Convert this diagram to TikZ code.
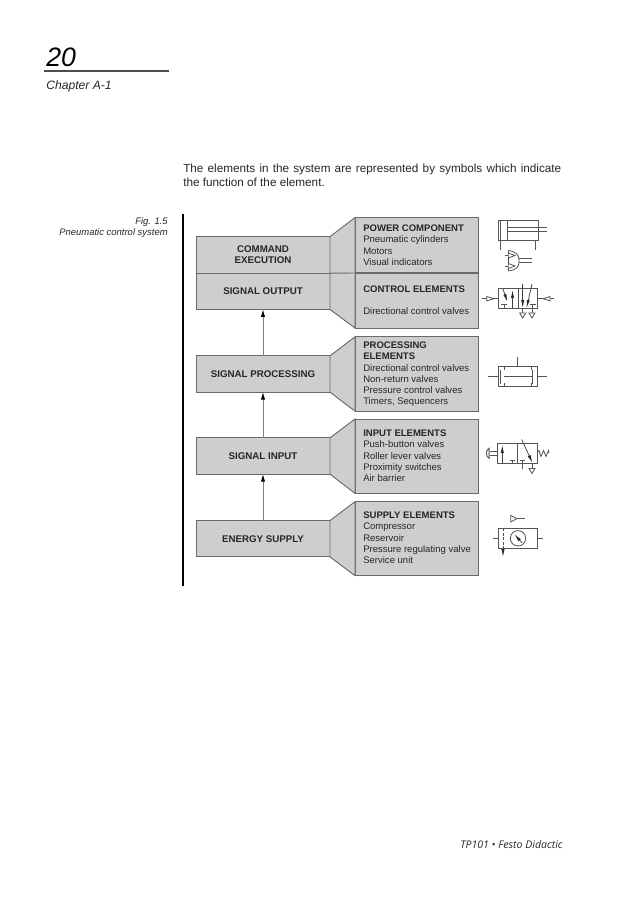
\documentclass[tikz,border=0pt]{standalone}
\usepackage{fontspec}
\setmainfont{Liberation Sans}
\newfontfamily\footfont{Open Sans}
\usetikzlibrary{arrows.meta}
\definecolor{boxfill}{HTML}{CECECE}
\definecolor{boxline}{HTML}{6A6A6A}
\definecolor{symline}{HTML}{555555}
\tikzset{
  flowbox/.style={draw=boxline,line width=.7pt,fill=boxfill,inner sep=0pt,outer sep=0pt,minimum width=100.5pt,align=center,font=\fontsize{7.3}{8.1}\selectfont\bfseries,text=black!85},
  infobox/.style={draw=boxline,line width=.7pt,fill=boxfill,inner sep=0pt,outer sep=0pt,minimum width=92.25pt},
  funnel/.style={draw=boxline,line width=.7pt,fill=boxfill},
  infotext/.style={anchor=north west,inner sep=0pt,align=left,font=\fontsize{7.15}{8.3}\selectfont,text=black!85},
  flowarrow/.style={draw=gray,line width=.65pt,-{Latex[black,length=5.5pt,width=3.2pt]}},
  sym/.style={draw=symline,line width=.6pt},
  symthin/.style={draw=symline,line width=.5pt},
  symarrow/.style={draw=black!75,line width=.55pt,-{Latex[black!85,length=6pt,width=2.4pt]}},
  pagetext/.style={inner sep=0pt,font=\fontsize{7.1}{8.2}\selectfont\itshape,text=black!85}
}
\begin{document}
\begin{tikzpicture}[x=.75pt,y=-.75pt]
\useasboundingbox (0,0) rectangle (638,903);
% page furniture
\node[anchor=base west,inner sep=0pt,font=\fontsize{20}{22}\selectfont\itshape] (pagenum) at (46,66) {20};
\coordinate (ruleA) at (44,71); \coordinate (ruleB) at (168.5,71);
\draw[line width=.8pt,draw=black!70] (ruleA) -- (ruleB);
\node[anchor=base west,inner sep=0pt,font=\fontsize{9.1}{10}\selectfont\itshape,text=black!85] (chapter) at (46,89) {Chapter A-1};
\node[anchor=base west,inner sep=0pt,font=\fontsize{8.8}{10.5}\selectfont,text=black!85] (introA) at (183,172) {\makebox[283.5pt][s]{The elements in the system are represented by symbols which indicate}};
\node[anchor=base west,inner sep=0pt,font=\fontsize{8.8}{10.5}\selectfont,text=black!85] (introB) at (183,186) {the function of the element.};
\node[pagetext,anchor=base east] (figno) at (168,224) {Fig. 1.5};
\node[pagetext,anchor=base east] (figname) at (168,235) {Pneumatic control system};
\coordinate (barA) at (182.5,214); \coordinate (barB) at (182.5,585.5);
\draw[line width=1.5pt,draw=black] (barA) -- (barB);
\node[anchor=base east,inner sep=0pt,font=\footfont\fontsize{7.9}{9}\selectfont\itshape,text=black!85] (footer) at (563,848.5) {TP101 • Festo Didactic};

% info boxes
\node[infobox,minimum height=41.5pt] (power) at (416.5,245.25) {};
\node[infobox,minimum height=41.25pt] (control) at (416.5,300.5) {};
\node[infobox,minimum height=55.75pt] (proc) at (416.5,374) {};
\node[infobox,minimum height=55.75pt] (input) at (416.5,456.2) {};
\node[infobox,minimum height=55.5pt] (supply) at (416.5,538.7) {};
% flow boxes
\node[flowbox,minimum height=27.25pt] (cmd) at (263,254.8) {COMMAND\\EXECUTION};
\node[flowbox,minimum height=27.25pt] (out) at (263,291.3) {SIGNAL OUTPUT};
\node[flowbox,minimum height=27.25pt] (sproc) at (263,374) {SIGNAL PROCESSING};
\node[flowbox,minimum height=27.25pt] (sin) at (263,456) {SIGNAL INPUT};
\node[flowbox,minimum height=27.25pt] (energy) at (263,538.7) {ENERGY SUPPLY};
% funnels
\draw[funnel] (cmd.north east) -- (power.north west) -- (control.south west) -- (out.south east) -- cycle;
\draw[funnel] (sproc.north east) -- (proc.north west) -- (proc.south west) -- (sproc.south east) -- cycle;
\draw[funnel] (sin.north east) -- (input.north west) -- (input.south west) -- (sin.south east) -- cycle;
\draw[funnel] (energy.north east) -- (supply.north west) -- (supply.south west) -- (energy.south east) -- cycle;
\draw[draw=boxline,line width=.7pt] (out.north east) -- (control.north west);
% arrows
\draw[flowarrow] (sproc.north) -- (out.south);
\draw[flowarrow] (sin.north) -- (sproc.south);
\draw[flowarrow] (energy.north) -- (sin.south);
% info texts
\node[infotext] (t1) at (363,225) {\textbf{POWER COMPONENT}\\Pneumatic cylinders\\Motors\\Visual indicators};
\node[infotext] (t2a) at (363,286) {\textbf{CONTROL ELEMENTS}};
\node[infotext] (t2b) at (363,307) {Directional control valves};
\node[infotext] (t3) at (363,342) {\textbf{PROCESSING}\\\textbf{ELEMENTS}\\Directional control valves\\Non-return valves\\Pressure control valves\\Timers, Sequencers};
\node[infotext] (t4) at (363,430) {\textbf{INPUT ELEMENTS}\\Push-button valves\\Roller lever valves\\Proximity switches\\Air barrier};
\node[infotext] (t5) at (363,512) {\textbf{SUPPLY ELEMENTS}\\Compressor\\Reservoir\\Pressure regulating valve\\Service unit};

% ---- symbol: cylinder
\draw[sym] (498.3,220) rectangle (538.3,240);
\draw[sym] (500.7,220) -- (500.7,240) (507.3,220) -- (507.3,240);
\draw[sym] (507.3,227.7) -- (546.7,227.7) (507.3,231.7) -- (546.7,231.7);
\draw[sym] (500.3,240) -- (500.3,250) (535.7,240) -- (535.7,250);
% ---- symbol: motor
\draw[sym] (508.3,250.5) .. controls (516,251.5) and (519,255) .. (519,260) -- (519,262) .. controls (519,267) and (516,270) .. (508.3,271);
\draw[sym] (519,258.3) -- (531.7,258.3) (519,262.7) -- (531.7,262.7);
\draw[symthin] (508.3,250.5) -- (508.3,253) (508.3,258) -- (508.3,263.5) (508.3,268.5) -- (508.3,271);
\draw[sym] (508.3,253) -- (515,255.5) -- (508.3,258) -- cycle (508.3,263.5) -- (515,266) -- (508.3,268.5) -- cycle;
\draw[symthin] (504.5,255.5) -- (508.3,255.5) (504.5,266) -- (508.3,266);
% ---- symbol: control valve
\draw[sym] (498.3,288.3) rectangle (537.7,308.3);
\draw[sym] (518,288.3) -- (518,308.3);
\draw[symthin] (481.7,298.7) -- (486.7,298.7) (494,298.7) -- (498.3,298.7) (537.7,298.7) -- (543,298.7) (550,298.7) -- (554,298.7);
\draw[sym] (486.7,296.5) -- (494,298.7) -- (486.7,300.9) -- cycle;
\draw[sym] (550,296.5) -- (543,298.7) -- (550,300.9) -- cycle;
\draw[symarrow] (503,289) -- (507.5,302);
\draw[symarrow] (512.5,308) -- (512.5,290);
\draw[symarrow] (522.7,283.5) -- (522.7,308);
\draw[symarrow] (532,284) -- (526.5,308);
\draw[symthin] (501,304) -- (507,304) (504,304) -- (504,308.3);
\draw[symthin] (529.5,304) -- (535.5,304) (532.5,304) -- (532.5,308.3);
\draw[symthin] (522.7,308.3) -- (522.7,313) (532,308.3) -- (532,313);
\draw[sym] (519.7,313) -- (525.7,313) -- (522.7,318) -- cycle;
\draw[sym] (529,313) -- (535,313) -- (532,318) -- cycle;
% ---- symbol: processing valve
\draw[sym] (498.3,366.7) rectangle (537.7,386.7);
\draw[symthin] (488.3,376.7) -- (498.3,376.7) (504.3,376.7) -- (532,376.7) (537.7,376.7) -- (547.3,376.7);
\draw[symthin] (517.7,356.7) -- (517.7,366.7);
\draw[line width=.8pt,draw=symline] (500.5,370) -- (500.5,383.5) (532.7,370) -- (532.7,383.5);
\draw[symthin] (504.3,366.7) -- (504.3,370.3) (504.3,383) -- (504.3,386.7) (531.7,366.7) -- (531.7,370.3) (531.7,383) -- (531.7,386.7);
% ---- symbol: input valve
\draw[sym] (497.3,443.3) rectangle (537,463.3);
\draw[sym] (517.3,443.3) -- (517.3,463.3);
\draw[symarrow] (502.3,463.3) -- (502.3,445);
\draw[symarrow] (521.7,439.5) -- (532.5,463);
\draw[symthin] (509.5,460) -- (515,460) (512.3,460) -- (512.3,463.3);
\draw[symthin] (519.5,460) -- (525,460) (522.3,460) -- (522.3,468.5);
\draw[symthin] (532,463.3) -- (532,468.5);
\draw[sym] (529,468.5) -- (535,468.5) -- (532,473.5) -- cycle;
\draw[sym] (497.3,451.5) -- (489.5,451.5) (497.3,455) -- (489.5,455);
\draw[line width=.7pt,draw=symline] (489.2,448.3) .. controls (485.5,449.5) and (485.5,457) .. (489.2,458.3) -- cycle;
\draw[sym] (537,452) -- (539,450.5) -- (541,456.5) -- (543.5,450.5) -- (546,456.5) -- (548.5,450.5) -- (549,453);
% ---- symbol: service unit
\draw[sym] (498.3,528.3) rectangle (537.7,548.3);
\draw[symthin] (493.3,538.3) -- (498.3,538.3) (537.7,538.3) -- (542.7,538.3);
\draw[sym] (510.7,515.3) -- (510.7,522) -- (516.7,518.7) -- cycle;
\draw[symthin] (516.7,518.7) -- (525,518.7);
\draw[sym] (518,538.3) circle[radius=7.7];
\draw[symarrow] (522,542.8) -- (514.3,534.2);
\draw[symthin,dash pattern=on 2.2pt off 1.2pt] (503,528.3) -- (503,548.3);
\draw[symarrow] (503,548.3) -- (503,557);
\end{tikzpicture}
\end{document}
